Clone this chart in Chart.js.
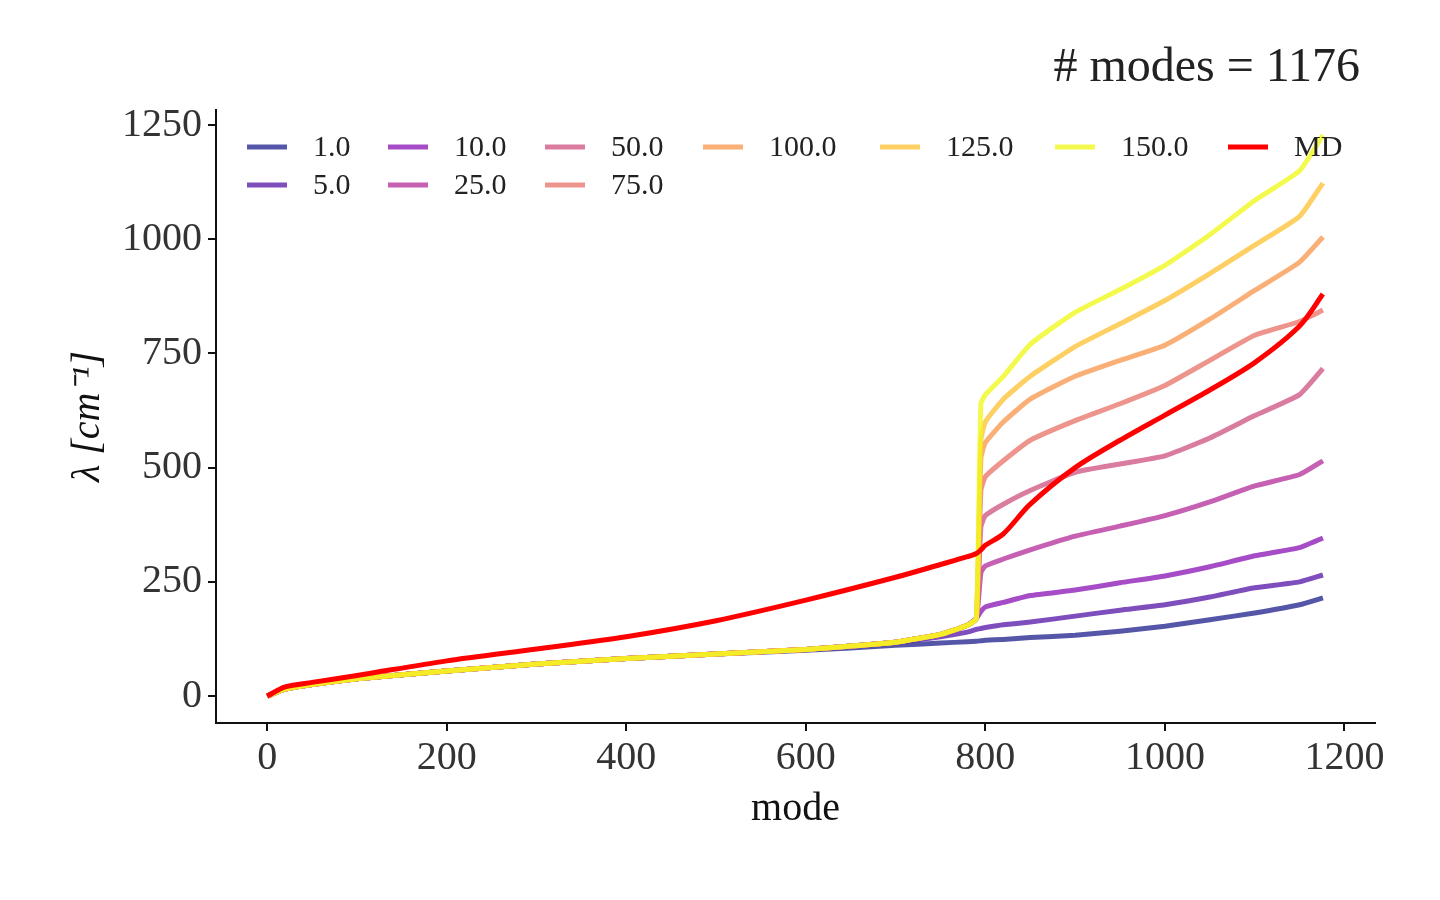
<!DOCTYPE html>
<html><head><meta charset="utf-8">
<script src="https://cdn.jsdelivr.net/npm/chart.js@4/dist/chart.umd.min.js"></script>
<style>body{margin:0;background:#fff}canvas{display:block}</style>
</head><body>
<canvas id="c" width="1440" height="900"></canvas>
<script>
// mode positions where values were read
const modes = [0, 20, 50, 100, 200, 300, 400, 500, 600, 700, 750, 780, 790, 795, 800, 820, 850, 900, 950, 1000, 1050, 1100, 1150, 1176];
// shared low part (0..790)
const base = [0, 15, 25, 38, 55, 70, 82, 92, 102, 118, 135, 155, 170];
const base1 = [0, 15, 25, 38, 55, 70, 82, 92, 100, 111, 116, 119, 120];
const base5 = [0, 15, 25, 38, 55, 70, 82, 92, 102, 118, 130, 140, 146];
const tails = {
  "1.0":   [121, 122, 124, 128, 133, 142, 153, 167, 182, 200, 215],
  "5.0":   [148, 150, 156, 162, 175, 188, 200, 217, 237, 250, 265],
  "10.0":  [185, 195, 205, 220, 232, 248, 263, 283, 307, 325, 346],
  "25.0":  [270, 285, 300, 320, 350, 372, 395, 425, 460, 485, 515],
  "50.0":  [370, 395, 420, 450, 490, 508, 526, 565, 614, 660, 717],
  "75.0":  [450, 480, 515, 560, 603, 640, 680, 735, 790, 820, 845],
  "100.0": [520, 555, 600, 650, 700, 735, 768, 825, 888, 950, 1005],
  "125.0": [560, 600, 650, 700, 765, 815, 866, 925, 987, 1050, 1123],
  "150.0": [640, 660, 700, 770, 840, 890, 943, 1010, 1085, 1150, 1228]
};
const mdValues = [0, 20, 30, 45, 77, 103, 130, 165, 210, 260, 288, 305, 312, 320, 330, 355, 420, 500, 560, 615, 670, 730, 810, 880];
const colors = {
  "1.0": "#2c2c93", "5.0": "#5f22ad", "10.0": "#8e1fb8", "25.0": "#b8389f",
  "50.0": "#d15a88", "75.0": "#e97a6f", "100.0": "#f99b55", "125.0": "#fec43d",
  "150.0": "#f0f921", "MD": "#ff0000"
};
// legend columns (matplotlib fills column by column)
const legendCols = [["1.0", "5.0"], ["10.0", "25.0"], ["50.0", "75.0"], ["100.0"], ["125.0"], ["150.0"], ["MD"]];
const font = "Liberation Serif";

function pts(vals) { return vals.map((v, i) => ({x: modes[i], y: v})); }

const datasets = Object.keys(tails).map((k, i) => {
  const b = k == "1.0" ? base1 : (k == "5.0" ? base5 : base);
  return {
    label: k, data: pts(b.concat(tails[k])), borderColor: colors[k] + "cc",
    borderWidth: 5, pointRadius: 0, tension: 0.15, order: 20 - i
  };
});
datasets.push({label: "MD", data: pts(mdValues), borderColor: colors.MD, borderWidth: 5, pointRadius: 0, tension: 0.3, order: 0});

const legendPlugin = {
  id: "colLegend",
  afterDraw(chart) {
    const c = chart.ctx;
    const colX = [247, 388, 545, 703, 880, 1055, 1228];
    c.save();
    c.font = "30px " + font;
    c.textBaseline = "middle";
    legendCols.forEach((col, ci) => col.forEach((k, row) => {
      const x = colX[ci], y = 147 + row * 38;
      c.strokeStyle = colors[k] + (k == "MD" ? "" : "cc");
      c.lineWidth = 5;
      c.beginPath(); c.moveTo(x, y); c.lineTo(x + 40, y); c.stroke();
      c.fillStyle = "#222";
      c.fillText(k, x + 66, y + 1);
    }));
    c.font = "48px " + font;
    c.textAlign = "right";
    c.fillStyle = "#222";
    c.fillText("# modes = 1176", 1360, 68);
    c.restore();
  }
};

new Chart(document.getElementById("c"), {
  type: "line",
  data: {datasets},
  options: {
    responsive: false, animation: false,
    layout: {padding: {left: 60, right: 65, top: 110, bottom: 67}},
    plugins: {legend: {display: false}, tooltip: {enabled: false}},
    scales: {
      x: {
        type: "linear", min: -57, max: 1234,
        afterBuildTicks: ax => { ax.ticks = [0, 200, 400, 600, 800, 1000, 1200].map(v => ({value: v})); },
        grid: {drawOnChartArea: false, tickLength: 8, color: "#111", lineWidth: 2},
        border: {color: "#111", width: 2},
        ticks: {font: {family: font, size: 40}, color: "#333", callback: v => String(v)},
        title: {display: true, text: "mode", font: {family: font, size: 40}, color: "#111", padding: 0}
      },
      y: {
        min: -59, max: 1283,
        afterBuildTicks: ax => { ax.ticks = [0, 250, 500, 750, 1000, 1250].map(v => ({value: v})); },
        grid: {drawOnChartArea: false, tickLength: 8, color: "#111", lineWidth: 2},
        border: {color: "#111", width: 2},
        ticks: {font: {family: font, size: 40}, color: "#333", padding: 6, callback: v => String(v)},
        title: {display: true, text: "λ [cm⁻¹]", font: {family: font, size: 40, style: "italic"}, color: "#111"}
      }
    }
  },
  plugins: [legendPlugin]
});
</script>
</body></html>
